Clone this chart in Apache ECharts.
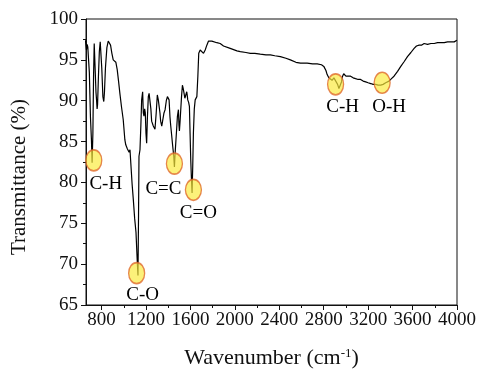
<!DOCTYPE html>
<html>
<head>
<meta charset="utf-8">
<script src="https://cdn.jsdelivr.net/npm/echarts@6/dist/echarts.min.js"></script>
<style>
  html, body { margin: 0; padding: 0; background: #fff; }
  #chart { width: 480px; height: 380px; }
</style>
</head>
<body>
<div id="chart"></div>
<script>
// spectrum
var wavenumber = [655, 664, 670, 676, 690, 700, 709, 715, 722, 728, 734, 742, 750, 755, 760, 764, 772, 780, 788, 794,
  802, 812, 820, 826, 835, 848, 860, 870, 881, 893, 905, 918, 929, 941, 953, 965, 980, 995, 1010, 1018,
  1026, 1033, 1041, 1048, 1056, 1065, 1075, 1086, 1098, 1110, 1122, 1128, 1133, 1137, 1146, 1154, 1161, 1170, 1176, 1182,
  1188, 1194, 1200, 1206, 1213, 1221, 1228, 1236, 1244, 1251, 1258, 1266, 1273, 1281, 1292, 1302, 1311, 1320, 1326, 1332,
  1342, 1351, 1362, 1372, 1383, 1393, 1400, 1408, 1416, 1423, 1431, 1438, 1444, 1450, 1456, 1462, 1468, 1476, 1483, 1492,
  1497, 1501, 1507, 1513, 1520, 1528, 1535, 1543, 1550, 1558, 1567, 1572, 1576, 1584, 1591, 1597, 1603, 1609, 1615, 1621,
  1627, 1635, 1643, 1650, 1658, 1667, 1675, 1688, 1703, 1718, 1733, 1748, 1763, 1778, 1793, 1838, 1868, 1898, 1958, 2019,
  2049, 2100, 2139, 2180, 2229, 2280, 2320, 2360, 2410, 2460, 2500, 2550, 2591, 2651, 2700, 2741, 2780, 2801, 2820, 2831,
  2846, 2861, 2875, 2892, 2910, 2925, 2937, 2952, 2960, 2967, 2980, 2988, 3000, 3015, 3042, 3065, 3087, 3110, 3132, 3155,
  3178, 3200, 3223, 3245, 3268, 3290, 3313, 3335, 3358, 3388, 3410, 3433, 3465, 3494, 3525, 3554, 3585, 3614, 3635, 3659,
  3680, 3704, 3735, 3765, 3795, 3825, 3855, 3885, 3915, 3945, 3975, 3999];
var transmittance = [97.4, 96.2, 96.9, 96.6, 93.5, 88.0, 85.2, 82.4, 86.0, 93.0, 97.0, 94.0, 91.0, 90.1, 89.0, 89.5, 93.0, 96.0, 97.2, 97.2,
  94.0, 90.5, 89.9, 91.0, 94.0, 96.5, 97.3, 97.3, 96.8, 95.8, 95.0, 94.8, 94.7, 93.8, 92.4, 90.9, 89.2, 87.7, 85.2, 84.6,
  84.8, 84.1, 84.2, 83.7, 84.0, 82.0, 79.8, 77.9, 75.6, 73.9, 70.2, 68.6, 76.0, 83.2, 84.0, 87.0, 90.1, 91.1, 88.5, 88.1,
  89.0, 88.5, 86.0, 84.8, 88.0, 90.5, 90.9, 90.7, 89.0, 87.5, 87.3, 86.9, 86.7, 86.5, 88.5, 90.7, 90.1, 90.1, 88.5, 87.5,
  86.9, 86.7, 88.5, 88.9, 90.0, 90.5, 90.6, 90.1, 88.0, 86.9, 85.8, 84.8, 84.0, 83.2, 81.9, 83.5, 83.6, 86.5, 88.1, 88.9,
  87.0, 86.3, 87.5, 88.9, 90.5, 91.9, 91.5, 90.9, 90.3, 90.1, 91.1, 90.6, 90.1, 89.8, 89.3, 86.0, 82.8, 80.5, 78.7, 82.0,
  86.1, 89.0, 90.1, 90.3, 90.5, 93.0, 95.8, 96.2, 96.4, 95.8, 96.2, 96.8, 97.3, 97.4, 97.3, 97.1, 97.0, 96.7, 96.4, 96.1,
  96.0, 95.9, 95.8, 95.8, 95.7, 95.6, 95.6, 95.5, 95.4, 95.2, 95.0, 94.7, 94.6, 94.6, 94.5, 94.5, 94.4, 94.2, 93.7, 93.2,
  92.8, 92.6, 92.5, 92.8, 92.6, 92.0, 91.5, 91.3, 92.3, 92.9, 93.3, 93.2, 93.0, 93.1, 93.0, 92.8, 92.7, 92.6, 92.6, 92.4,
  92.3, 92.2, 92.1, 92.0, 92.0, 91.9, 91.9, 92.0, 92.2, 92.4, 92.7, 93.0, 93.6, 94.2, 94.8, 95.4, 95.9, 96.4, 96.7, 96.8,
  96.8, 97.0, 96.9, 97.0, 97.0, 97.1, 97.1, 97.1, 97.2, 97.2, 97.2, 97.4];

// marked bands
var peakNames = ['C-H', 'C-O', 'C=C', 'C=O', 'C-H', 'O-H'];
var peakWave = [730, 1116, 1456, 1627, 2907, 3326];
var peakT = [82.7, 68.9, 82.3, 79.1, 92.0, 92.2];

var xMajor = [800, 1200, 1600, 2000, 2400, 2800, 3200, 3600, 4000];
var xMinor = [1000, 1400, 1800, 2200, 2600, 3000, 3400, 3800];

var labelOffsets = [[12, 24], [6, 22], [-11, 25], [5, 23], [7, 23], [7, 24]];

var serif = '"Liberation Serif", "DejaVu Serif", serif';
var ink = '#111';

var lineData = wavenumber.map(function (w, i) { return [w, transmittance[i]]; });
var peakData = peakNames.map(function (n, i) {
  return {
    name: n,
    value: [peakWave[i], peakT[i]],
    label: { offset: labelOffsets[i] }
  };
});

var dom = document.getElementById('chart');
var myChart = echarts.init(dom, null, { renderer: 'canvas' });

var option = {
  animation: false,
  grid: {
    left: 86, right: 23, top: 19, bottom: 75,
    show: true, borderColor: ink, borderWidth: 1
  },
  xAxis: [
    {
      type: 'value', min: 660, max: 4000,
      name: 'Wavenumber (cm{sup|-1})',
      nameLocation: 'middle', nameGap: 42,
      nameTextStyle: {
        fontFamily: serif, fontSize: 22, color: ink,
        rich: { sup: { fontFamily: serif, fontSize: 13, color: ink, verticalAlign: 'top', padding: [0, 0, 10, 0] } }
      },
      axisLine: { lineStyle: { color: ink, width: 1 } },
      axisTick: { customValues: xMajor, length: 5, lineStyle: { color: ink } },
      axisLabel: {
        customValues: xMajor, fontFamily: serif, fontSize: 19, color: ink, margin: 6,
        formatter: function (v) { return String(v); }
      },
      splitLine: { show: false }
    },
    {
      type: 'value', min: 660, max: 4000, position: 'bottom',
      axisLine: { show: false },
      axisTick: { customValues: xMinor, length: 3, lineStyle: { color: ink } },
      axisLabel: { show: false },
      splitLine: { show: false }
    }
  ],
  yAxis: {
    type: 'value', min: 65, max: 100, interval: 5,
    name: 'Transmittance (%)',
    nameLocation: 'middle', nameGap: 56,
    nameTextStyle: { fontFamily: serif, fontSize: 21, color: ink, padding: [0, 30, 0, 0] },
    axisLine: { show: true, lineStyle: { color: ink, width: 1 } },
    axisTick: { show: true, length: 5, lineStyle: { color: ink } },
    minorTick: { show: true, splitNumber: 2, length: 3, lineStyle: { color: ink } },
    axisLabel: { fontFamily: serif, fontSize: 19, color: ink, margin: 8 },
    splitLine: { show: false }
  },
  series: [
    {
      type: 'line',
      data: lineData,
      showSymbol: false,
      lineStyle: { color: '#000', width: 1.2 },
      z: 2
    },
    {
      type: 'scatter',
      data: peakData,
      symbol: 'circle',
      symbolSize: [16, 21],
      itemStyle: { color: 'rgba(250, 234, 60, 0.85)', borderColor: '#e06a2c', borderWidth: 1.5 },
      label: {
        show: true, position: 'inside',
        formatter: '{b}',
        fontFamily: serif, fontSize: 19, color: '#000',
        opacity: 1, textBorderWidth: 0
      },
      z: 3
    }
  ]
};

myChart.setOption(option);
window.addEventListener('resize', myChart.resize);
</script>
</body>
</html>
